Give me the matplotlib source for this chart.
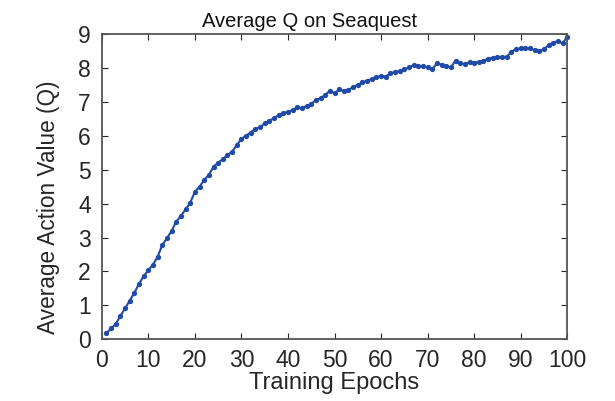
import numpy as np
import matplotlib
matplotlib.use('Agg')
import matplotlib.pyplot as plt

# data
epochs = list(range(1, 101))
avg_q = [0.18, 0.32, 0.45, 0.69, 0.91, 1.14, 1.37, 1.64, 1.86, 2.04,
         2.20, 2.44, 2.78, 2.98, 3.20, 3.47, 3.64, 3.83, 4.03, 4.35,
         4.50, 4.70, 4.85, 5.09, 5.21, 5.31, 5.44, 5.53, 5.73, 5.91,
         6.01, 6.10, 6.21, 6.25, 6.37, 6.45, 6.52, 6.62, 6.67, 6.71,
         6.76, 6.84, 6.81, 6.89, 6.94, 7.06, 7.11, 7.21, 7.33, 7.26,
         7.37, 7.32, 7.35, 7.45, 7.50, 7.58, 7.63, 7.68, 7.73, 7.77,
         7.75, 7.85, 7.88, 7.92, 7.96, 8.02, 8.09, 8.07, 8.05, 8.02,
         7.97, 8.14, 8.10, 8.06, 8.02, 8.22, 8.16, 8.11, 8.18, 8.16,
         8.18, 8.22, 8.28, 8.31, 8.32, 8.32, 8.34, 8.48, 8.56, 8.58,
         8.59, 8.58, 8.53, 8.50, 8.56, 8.68, 8.75, 8.80, 8.73, 8.93]
x_ticks = [0, 10, 20, 30, 40, 50, 60, 70, 80, 90, 100]
y_ticks = [0, 1, 2, 3, 4, 5, 6, 7, 8, 9]

plt.rcParams['font.family'] = ['Liberation Sans', 'DejaVu Sans']
axis_col = '#262626'

fig = plt.figure(figsize=(6.15, 4.01), dpi=100)
ax = fig.add_axes([0.1655, 0.1539, 0.9224 - 0.1655, 0.9147 - 0.1539])

ax.plot(epochs, avg_q, color='#1f4aa8', linewidth=1.5, marker='o',
        markersize=3.8, markeredgewidth=0, clip_on=False)

ax.set_xlim(0, 100)
ax.set_ylim(0, 9)
ax.set_xticks(x_ticks)
ax.set_yticks(y_ticks)
ax.tick_params(direction='in', length=4, width=0.8, colors=axis_col,
               top=True, right=True, labelsize=16.5)
ax.tick_params(axis='x', pad=7)
ax.tick_params(axis='y', pad=8)
for s in ax.spines.values():
    s.set_color('#555555')
    s.set_linewidth(1.3)

ax.set_xlabel('Training Epochs', fontsize=17, color=axis_col, labelpad=0)
ax.set_ylabel('Average Action Value (Q)', fontsize=16.3, color=axis_col)
ax.yaxis.set_label_coords(-0.09, 0.433)
ax.set_title('Average Q on Seaquest', fontsize=14.5, color='#111111', pad=5,
             x=0.447)

plt.savefig('out.png', dpi=100)
